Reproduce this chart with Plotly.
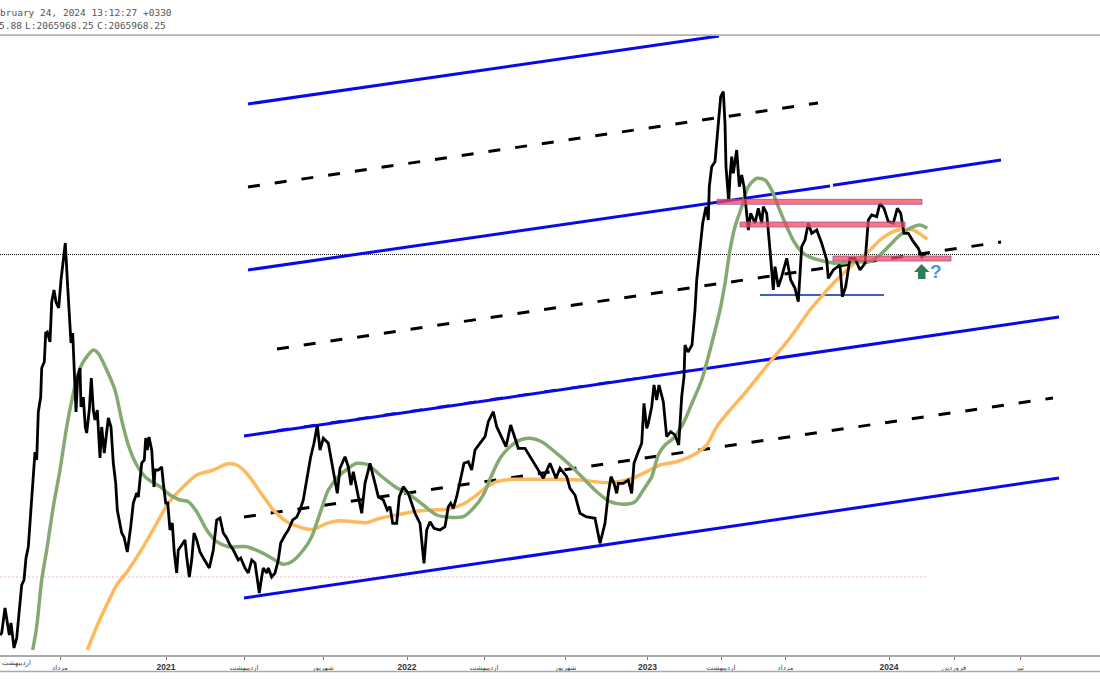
import plotly.graph_objects as go

# All series; x = chart position along the time scale, y = chart position on the (inverted) price scale
price = [(0,635),(1.7,633),(5,608),(6.7,620),(9.3,635),(11,623),(14,648),(16.7,638),(19,613),(21.7,585),(24,580),(26,558),(28.3,547),(30.7,513),(33.3,477),(35,452),(36.7,460),(38.3,412),(40.7,397),(41.7,368),(44.3,362),(45.7,333),(47.3,332),(50,342),(51.7,302),(54,290),(56,302),(58.7,308),(61,280),(63.3,263),(65.3,243),(67.7,287),(70,330),(71,343),(72.7,333),(74.7,387),(76,412),(77.7,377),(80,368),(81,407),(83.3,397),(85.3,427),(86.7,433),(89.3,410),(91.3,378),(93.3,410),(95,420),(97.3,410),(100,458),(101.7,427),(104.3,453),(108.3,418),(111,427),(113.3,463),(115.7,483),(117.3,510),(120,523),(121.7,533),(124,537),(127.3,552),(130.7,527),(133.3,503),(136.7,493),(138.3,497),(141.7,463),(144.3,460),(145.7,438),(147.3,450),(149,437),(151.7,450),(154,487),(155,470),(158.3,470),(161.7,467),(163.3,483),(165.7,503),(167.7,503),(170,530),(172.3,523),(174.3,553),(176.7,573),(178.3,550),(181.7,545),(185,540),(186.7,557),(189.3,577),(191.7,560),(194,533),(196.7,540),(200,552),(203.3,558),(209.3,568),(213.3,550),(216.7,520),(220,518),(223.3,533),(226.7,538),(230,545),(233.3,550),(238.3,560),(240.7,558),(245,568),(248.3,573),(251.7,560),(255,563),(257.7,583),(259.3,593),(261.7,577),(263.3,568),(266.7,573),(268.3,568),(271.7,577),(275,573),(278.3,560),(280.7,543),(285,535),(288.3,530),(292.7,520),(296.7,517),(300,510),
(303.3,500),(306.7,480),(310.7,456.7),(314,443.3),(317.3,425),(320,450),(323.3,438.3),(328.3,443.3),(331.7,463.3),(335,480),(337.3,493.3),(340,468.3),(345,456.7),(348.3,466.7),(351,485),(353.3,471.7),(356.7,490),(361.7,513.3),(365,483.3),(370,463.3),(375,483.3),(378.3,496.7),(383.3,500),(387.3,510),(390,506.7),(392.7,523.3),(396.7,523.3),(399.3,496.7),(403.3,486.7),(408.3,493.3),(411.7,503.3),(415,513.3),(420,523.3),(423.3,560),(424,563.3),(426.7,530),(430,521.7),(434,528.3),(440,530),(445,526.7),(448.3,506.7),(450.7,503.3),(453.3,508.3),(456.7,496.7),(460,480),(464,463.3),(468.3,461.7),(471.7,470),(475,450),(480,443.3),
(485,436.7),(488.3,421.7),(493.3,411.7),(496.7,426.7),(501.7,438.3),(506,446.7),(510.7,425),(513.3,433.3),(518.3,448.3),(525,448.3),(530,456.7),(538.3,470),(543.3,478.3),(550,463.3),(556,478.3),(560,468.3),(566.7,476.7),(570,488.3),(575,495),(580,513.3),(586,516.7),(595,518.3),(600,543.3),(605,523.3),(608.3,493.3),(611,476.7),(614,483.3),(616.7,493.3),(618.3,483.3),(623.3,483.3),(628.3,480),(631.7,493.3),(634,463.3),(638.3,451.7),(641.7,443.3),(644,403.3),(646.7,428.3),(648.3,423.3),(651.7,406.7),(654,385),(656.7,400),(659,385),(663.3,401.7),(666.7,436.7),(670.7,431.7),(675,435),(678.7,445),(681.7,396.7),(684,377),(685,345),(688,352),(692,345),
(695,310),(696.7,280),(700,246.7),(702.7,223.3),(706,206.7),(708.3,220),(709.3,186.7),(711.7,166.7),(715,161.7),(718.3,126.7),(720.7,96.7),(723.3,91.7),(725,123.3),(726,166.7),(728.7,201.7),(730,176.7),(731.7,156.7),(733.3,173.3),(736.7,150),(739.3,186.7),(741.7,175),(744,186.7),(746.7,210),(748.3,230),(750.7,213.3),(755,223.3),(758.3,208.3),(761.7,223.3),(763.3,206.7),(766.7,213.3),(770,250),(773.3,290),(775,266.7),(778.3,286.7),(781.7,276.7),(786.7,258.3),(790.7,280),(795,288.3),(798.3,301.7),(801.7,246.7),(805,240),(808.3,223.3),(811.7,233.3),(816.7,230),(821.7,243.3),(826.7,260),(828.3,278.3),(833.3,270),(840,265),(842.3,296.7),(845.7,286.7),(850,258.3),(855,258.3),(860,270),(865,263.3),(868.3,220),(871.7,215),(876.7,216.7),(880,203.3),(884,208.3),(888.3,221.7),(893.3,223.3),(897.3,208.3),(900.7,213.3),(904,233.3),(908.3,233.3),(913.3,241.7),(918.3,248.3),(921.7,256.7),(926,253.3)]

ma_green = [(32.7,650),(36.7,626.7),(41.7,580),(46.7,550),(53.3,506.7),(60,470),(66.7,426.7),(73.3,393.3),(78.3,373.3),(83.3,361.7),(93.3,350),(98.3,353.3),(106.7,370),(115,390),(121.7,420),(128.3,445),(136.7,465),(146.7,478.3),(160,486.7),(170,495),(180,500),(188.3,501.7),(196.7,511.7),(206.7,530),(216.7,541.7),(228.3,546.7),(246.7,546.7),(263.3,553.3),(275,560),(283.3,564.3),(291.7,561.7),(303.3,550),(311.7,536.7),(320,513.3),(328.3,490),(338.3,476.7),(348.3,468.3),(356.7,463.3),(368.3,465),(380,475),(395,486.7),(410,495),(423.3,505),(436.7,515),(450,517.3),(463.3,516.7),(473.3,508.3),(483.3,495),(490,479),(500,458.3),(510,446.7),(520,440),(530,438.3),(541.7,441.7),(556.7,453.3),(570,465),(583.3,478.3),(596.7,491.7),(610,501.7),(623.3,504.3),(635,501.7),(643.3,490),(651.7,476.7),(658.3,455),(665,445),(673.3,438.3),(683.3,423.3),(693.3,400),(701.7,380),(720,310),(725,283.3),(730,250),(735,226.7),(741.7,206.7),(748.3,186.7),(756.7,178.3),(765,180),(771.7,190),(778.3,206.7),(786.7,226.7),(795,243.3),(803.3,253.3),(813.3,258.3),(826.7,261.7),(836.7,263.3),(853.3,261.7),(870,261.7),(880,255),(890,245),(900,235),(910,228.3),(920,225),(927.3,228.3)]

ma_orange = [(87.3,650),(96.7,626.7),(106.7,605),(116.7,585),(128.3,570),(143.3,546.7),(156.7,523.3),(168.3,503.3),(181.7,488.3),(196.7,475),(213.3,470),(226.7,464),(236.7,465),(246.7,473.3),(260,491.7),(273.3,510),(286.7,521.7),(303.3,528.3),(313.3,529.3),(326.7,523.3),(340,520.7),(353.3,521.7),(366.7,522.7),(380,518.3),(396.7,515),(413.3,511.7),(430,510),(446.7,509.3),(463.3,504),(476.7,495),(485,488.3),(496.7,481.7),(513.3,479.3),(530,479.3),(556.7,479.3),(580,480),(608.3,482.7),(630,479.3),(646.7,471.7),(660,465),(676.7,461.7),(693.3,455),(706.7,445),(716.7,426.7),(730,410),(745,393),(770,362),(790,338),(810,310),(820,298.3),(833.3,283.3),(846.7,270),(860,258.3),(870,250),(880,240),(893.3,231.7),(903.3,229.3),(913.3,230),(921.7,235),(927.3,239.3)]

channel_solid = [
    [(248,104),(719,36)],
    [(248,270),(830,186)],
    [(833,185.3),(1001,160)],
    [(244,436),(1059,317)],
    [(244,598),(1059,478)],
]
channel_overlay = [(277,430.3),(700,369)]
channel_dashed = [
    [(248,187),(818,103)],
    [(277,349),(1001,242)],
    [(244,517),(1053,398)],
]
support_line = [(760,295),(884,295)]
last_price_level = 254.5
faint_level = 577
faint_end = 928
zones = [(717,922,199.3,204.3),(740,905,222,227),(833,951,256,261)]

tick_positions = [60,166,244,323,407,484,565.5,647.5,721,785.5,889,954,1020]
tick_names = ["مرداد","2021","اردیبهشت","شهریور","2022","اردیبهشت","شهریور","2023","اردیبهشت","مرداد","2024","فروردین","تیر"]
header_top = "bruary 24, 2024 13:12:27 +0330"
header_bottom = [("5.88", -3), ("L:2065968.25", 22.5), ("C:2065968.25", 94.5)]
clipped_label = "اردیبهشت"

def tick_text(name):
    if name.isdigit():
        return f'<span style="font-size:8.5px;font-weight:bold">{name}</span>'
    return f'<span style="font-size:7px;fill:#444444">{name}</span>'

tick_labels = [tick_text(n) for n in tick_names]

fig = go.Figure()

def add(points, color, width, dash="solid", smooth=False):
    line = dict(color=color, width=width, dash=dash)
    if smooth:
        line.update(shape="spline", smoothing=0.7)
    fig.add_trace(go.Scatter(x=[p[0] for p in points], y=[p[1] for p in points], mode="lines",
                             line=line, hoverinfo="skip"))

add([(0,last_price_level),(1100,last_price_level)], "#111111", 1, "1px,1px")
add([(0,faint_level),(faint_end,faint_level)], "rgba(240,150,160,0.7)", 1, "2px,2px")
for seg in channel_dashed:
    add(seg, "#000000", 3, "12px,15px")
for seg in channel_solid:
    add(seg, "#0a0ae8", 3)
add(channel_overlay, "#0a0ae8", 2, "12px,15px")
add(support_line, "#3f62b8", 2)
add(ma_orange, "#ffb95c", 3.5, smooth=True)
add(ma_green, "#84aa72", 3.5, smooth=True)
add(price, "#000000", 2.8)

shapes = [
    dict(type="line", xref="paper", yref="paper", x0=0, x1=1, y0=1.0015, y1=1.0015, line=dict(color="#777777", width=1)),
    dict(type="line", xref="paper", yref="paper", x0=0, x1=1, y0=-0.0265, y1=-0.0265, line=dict(color="#aaaaaa", width=1.5)),
    dict(type="path", xref="x", yref="y", path="M 921.5 264 L 929.5 272 L 925.5 272 L 925.5 279 L 918 279 L 918 272 L 914 272 Z",
         fillcolor="#2f7f55", line=dict(width=0)),
]
for x0, x1, y0, y1 in zones:
    shapes.append(dict(type="rect", xref="x", yref="y", x0=x0, x1=x1, y0=y0, y1=y1,
                       fillcolor="rgba(255,70,80,0.75)", line=dict(color="rgba(135,85,170,0.75)", width=1)))

mono = dict(family="DejaVu Sans Mono", size=9.5, color="#555555")
annotations = [
    dict(text=header_top, xref="paper", yref="paper", x=-0.002, y=1.0385, xanchor="left", yanchor="middle", showarrow=False, font=mono),
    dict(text=clipped_label, xref="paper", yref="paper", x=0, y=-0.0125, xanchor="left", yanchor="middle", showarrow=False,
         font=dict(family="DejaVu Sans", size=7, color="#444444")),
    dict(text="<b>?</b>", xref="x", yref="y", x=936, y=271, xanchor="center", yanchor="middle", showarrow=False,
         font=dict(family="Liberation Sans", size=19, color="#4a96d6")),
]
for chunk, pos in header_bottom:
    annotations.append(dict(text=chunk, xref="paper", yref="paper", x=pos/1100, y=1.0175, xanchor="left", yanchor="middle",
                            showarrow=False, font=mono))

fig.update_layout(
    width=1100, height=700, showlegend=False, paper_bgcolor="white", plot_bgcolor="white",
    margin=dict(l=0, r=0, t=36, b=45), shapes=shapes, annotations=annotations,
    xaxis=dict(range=[0,1100], showgrid=False, zeroline=False, showline=True, linecolor="#aaaaaa", linewidth=2,
               ticks="outside", ticklen=3, tickcolor="#777777", tickwidth=1,
               tickvals=tick_positions, ticktext=tick_labels, tickangle=0,
               tickfont=dict(family="Liberation Sans, DejaVu Sans", size=8, color="#333333")),
    yaxis=dict(range=[655,36], visible=False, showgrid=False, zeroline=False),
)
fig.write_html("out.html", post_script="document.body.style.margin='0';", config=dict(displayModeBar=False))
